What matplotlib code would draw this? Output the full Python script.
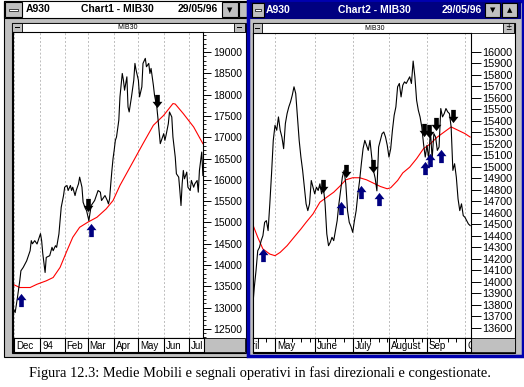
import numpy as np
import matplotlib
matplotlib.use("Agg")
import matplotlib.pyplot as plt
from matplotlib.patches import Rectangle
from matplotlib.path import Path
from matplotlib.ticker import MultipleLocator, FixedLocator

# ---- Chart1: MIB30 dic 93 - lug 94 (sedute dal 1 dic) ----
left_days = [-1, 1, 3, 5, 6, 8, 11, 14, 15, 16, 18, 20, 23, 24, 25, 27, 28, 31, 33, 34,
             36, 37, 39, 40, 41, 43, 44, 46, 47, 49, 50, 51, 53, 54, 56, 57, 59, 60, 62, 63,
             64, 65, 67, 70, 73, 75, 76, 79, 81, 82, 83, 84, 85, 86, 87, 88, 89, 90, 91, 92,
             94, 95, 96, 98, 99, 100, 102, 104, 105, 106, 108, 109, 111, 112, 114, 115, 117, 118, 119, 121,
             122, 124, 125, 127, 128, 130, 131, 132, 134, 135, 137, 138, 140, 141, 143, 144, 145, 146, 147, 148,
             150, 151, 153, 154, 156, 157, 159, 160, 161, 163, 164]
left_close = [13000, 12885, 13240, 13630, 13866, 13945, 14100, 14337, 14573, 14500, 14573, 14495, 14738, 14573, 14266, 13826, 14180, 14220, 14416, 14337,
              14455, 14416, 14730, 15044, 15357, 15632, 15828, 15868, 15750, 15868, 15750, 15828, 15632, 15750, 15907, 16064, 15828, 15475, 15326, 15280,
              15161, 15044, 15397, 15515, 15750, 15711, 15515, 15632, 15515, 15436, 15555, 15900, 16221, 16500, 16700, 16928, 17006, 17200, 17400, 17948,
              18498, 18341, 18105, 18419, 17712, 17594, 17948, 18341, 18734, 18576, 18341, 17948, 18183, 18734, 18852, 18655, 18734, 18498, 18616, 18223,
              17987, 17712, 17437, 16850, 16928, 17085, 16928, 17045, 17320, 17594, 17477, 17006, 16535, 16143, 16064, 15750, 15397, 15907, 16221, 16025,
              16182, 15828, 15750, 15986, 15828, 15907, 15986, 15711, 16221, 16653, 16103]
left_ma_days = [-1, 5, 14, 20, 28, 34, 40, 46, 51, 57, 64, 72, 80, 86, 92, 104, 112, 121, 130, 138, 140, 147, 156, 164]
left_ma = [13550, 13473, 13473, 13550, 13630, 13708, 13945, 14337, 14651, 14887, 15005, 15122, 15318, 15515, 15870,
           16457, 16850, 17281, 17516, 17791, 17780, 17555, 17241, 16850]
left_buy_days, left_buy = [6, 67], [13183, 14832]
left_sell_days, left_sell = [64, 124], [15420, 17846]
left_months = ["Dec", "94", "Feb", "Mar", "Apr", "May", "Jun", "Jul"]
left_month_days = [0, 23, 44, 64, 87, 108, 130, 152]

# ---- Chart2: MIB30 apr - ott 95 (sedute dal 1 maggio) ----
right_first_day = -13
right_close = [13761, 13949, 14095, 14269, 14298, 14357, 14400, 14516, 14531, 14444, 14677, 14940, 15229,
               15360, 15317, 15433, 15317, 15258, 15157, 15375, 15462, 15520, 15564, 15622, 15695, 15637, 15433,
               15229, 15084, 14968, 14822, 14677, 14618, 14677, 14880, 14822, 14764, 14822, 14793, 14851, 14764,
               14822, 14677, 14415, 14313, 14342, 14386, 14357, 14444, 14531, 14677, 14793, 14909, 14968, 14850,
               14618, 14516, 14480, 14429, 14531, 14618, 14764, 14880, 15026, 15157, 15229, 15186, 15142, 15229,
               15084, 14968, 14900, 14790, 15171, 15229, 15287, 15302, 15258, 15186, 15084, 15157, 15317, 15447,
               15520, 15695, 15724, 15607, 15709, 15738, 15724, 15753, 15782, 15724, 15919, 15782, 15578, 15491,
               15433, 15346, 15200, 15084, 15186, 15070, 15317, 15070, 15288, 15258, 15142, 15171, 15506, 15433,
               15462, 15506, 15477, 15462, 15346, 14968, 15026, 14909, 14720, 14618, 14677, 14575, 14560, 14531,
               14502, 14488]
right_ma_days = [-13, -10, -7, -3, 0, 3, 7, 11, 15, 18, 22, 26, 30, 34, 38, 41, 45, 49, 53, 57, 61, 65, 67,
                 71, 74, 78, 82, 86, 90, 94, 98, 102, 106, 110, 113]
right_ma = [14502, 14386, 14284, 14240, 14226, 14255, 14313, 14386, 14458, 14516, 14589, 14691, 14735, 14778,
            14837, 14886, 14904, 14904, 14886, 14857, 14828, 14808, 14817, 14880, 14946, 14996, 15070, 15157,
            15200, 15258, 15302, 15346, 15317, 15288, 15258]
right_buy_days = [-7, 38, 50, 60, 87, 90, 96]
right_buy = [14235, 14645, 14776, 14715, 14985, 15055, 15090]
right_sell_days = [28, 41, 57, 86, 89, 93, 103]
right_sell = [14828, 14959, 15003, 15317, 15308, 15369, 15439]
right_months = ["April", "May", "June", "July", "August", "Sep", "Oct"]
right_month_days = [-21, 0, 23, 45, 66, 88, 110]

caption = "Figura 12.3: Medie Mobili e segnali operativi in fasi direzionali e congestionate."

W, H = 524, 387
fig = plt.figure(figsize=(W / 100, H / 100), dpi=100)
bg = fig.add_axes([0, 0, 1, 1])
bg.set_xlim(0, W)
bg.set_ylim(H, 0)
bg.axis("off")

GRAY = "#c0c0c0"
NAVY = "#000080"
SANS = "Liberation Sans"


def box(x0, y0, x1, y1, fc, ec="black", lw=0.8):
    bg.add_patch(Rectangle((x0, y0), x1 - x0, y1 - y0, facecolor=fc, edgecolor=ec, linewidth=lw))


def px_axes(x0, y0, x1, y1):
    return fig.add_axes([x0 / W, 1 - y1 / H, (x1 - x0) / W, (y1 - y0) / H])


up = Path([(0, 1), (0.75, 0.05), (0.35, 0.05), (0.35, -1), (-0.35, -1), (-0.35, 0.05), (-0.75, 0.05), (0, 1)],
          [Path.MOVETO] + [Path.LINETO] * 6 + [Path.CLOSEPOLY])
down = Path(up.vertices * [1, -1], up.codes)

# ---- window chrome ----
# left (inactive) window
box(3.5, 0.5, 247, 356.5, GRAY)
box(4, 1, 246, 18, "white")
box(5, 2, 22, 17, GRAY)
box(9, 9, 18, 11, "white", lw=0.5)
box(222, 2, 238, 17, GRAY)
bg.text(230, 10, "\u25bc", ha="center", va="center", fontsize=5)
box(239, 2, 247, 17, GRAY)
bg.text(26, 9.5, "A930", ha="left", va="center", fontsize=7.5, weight="bold", family=SANS)
bg.text(117, 9.5, "Chart1 - MIB30", ha="center", va="center", fontsize=7.5, weight="bold", family=SANS)
bg.text(218, 9.5, "29/05/96", ha="right", va="center", fontsize=7.5, weight="bold", family=SANS)
box(11.5, 22.5, 245.5, 353, "white")
box(12, 23, 245, 32, "white", lw=0.6)
box(12, 23, 22, 32, GRAY, lw=0.6)
box(14.5, 27, 19.5, 28, "black", lw=0)
box(234, 23, 245, 32, GRAY, lw=0.6)
box(237, 27, 242, 28, "black", lw=0)
bg.text(128, 27.8, "MIB30", ha="center", va="center", fontsize=5, family=SANS)
box(204, 338, 245, 352, GRAY, lw=0.6)

# right (active) window
box(247.5, 1, 522.5, 356, GRAY, ec="#0000b0", lw=2.5)
box(250, 2, 520, 18, NAVY, ec=NAVY)
box(252, 3, 264, 17, GRAY)
box(255, 9, 261, 11, "white", lw=0.5)
box(485, 3, 500, 17, GRAY)
bg.text(492.5, 10, "\u25bc", ha="center", va="center", fontsize=5)
box(502, 3, 517, 17, GRAY)
bg.text(509.5, 10, "\u25b2", ha="center", va="center", fontsize=5)
bg.text(266, 9.8, "A930", ha="left", va="center", fontsize=7.5, weight="bold", color="white", family=SANS)
bg.text(374, 9.8, "Chart2 - MIB30", ha="center", va="center", fontsize=7.5, weight="bold", color="white",
        family=SANS)
bg.text(482, 9.8, "29/05/96", ha="right", va="center", fontsize=7.5, weight="bold", color="white", family=SANS)
box(252.5, 22.5, 515, 353, "white")
box(253, 23, 514, 33, "white", lw=0.6)
box(253, 23, 262, 33, GRAY, lw=0.6)
box(255, 27.5, 260, 28.5, "black", lw=0)
box(503, 23, 514, 33, GRAY, lw=0.6)
bg.text(508.5, 28, "\u00b1", ha="center", va="center", fontsize=5.5)
bg.text(375, 28.3, "MIB30", ha="center", va="center", fontsize=5, family=SANS)
box(471, 338, 515, 352, GRAY, lw=0.6)

bg.text(260, 373, caption, ha="center", va="center", fontsize=10.4, family="Liberation Serif")


def draw_chart(ax, days, close, ma_days, ma, buy_d, buy_v, sell_d, sell_v, grid_days, xlim, ylim):
    for d in grid_days:
        ax.axvline(d, color="#bcbcbc", lw=0.7, ls=(0, (2, 2)))
    ax.plot(ma_days, ma, color="#ff0000", lw=0.8)
    ax.plot(days, close, color="black", lw=0.8)
    ax.plot(buy_d, buy_v, ls="none", marker=up, ms=9.5, color=NAVY, mew=0)
    ax.plot(sell_d, sell_v, ls="none", marker=down, ms=9.5, color="black", mew=0)
    ax.set_xlim(*xlim)
    ax.set_ylim(*ylim)
    ax.set_xticks([])
    ax.yaxis.tick_right()
    for s in ax.spines.values():
        s.set_linewidth(0.8)


def date_strip(ax, days, labels, xlim, off, weekly=None):
    ax.set_xlim(*xlim)
    ax.set_ylim(0, 1)
    for d, lab in zip(days, labels):
        ax.axvline(d, color="black", lw=0.8)
        ax.text(d + off, 0.42, lab, ha="left", va="center", fontsize=7, family=SANS, clip_on=True)
    ax.set_yticks([])
    if weekly is None:
        ax.set_xticks([])
    else:
        ax.xaxis.set_ticks_position("top")
        ax.set_xticks(weekly)
        ax.set_xticklabels([])
        ax.tick_params(axis="x", direction="in", length=3, width=0.7)
    for s in ax.spines.values():
        s.set_linewidth(0.8)


# ---- Chart1 ----
lx = (-0.87, 164.1)
ax1 = px_axes(13, 32, 203, 338)
draw_chart(ax1, left_days, left_close, left_ma_days, left_ma, left_buy_days, left_buy,
           left_sell_days, left_sell, left_month_days, lx, (12288, 19471))
ax1.yaxis.set_major_locator(FixedLocator(np.arange(12500, 19001, 500)))
ax1.yaxis.set_minor_locator(MultipleLocator(100))
ax1.tick_params(axis="y", which="major", length=6, width=0.7, pad=1.5, labelsize=7.5)
ax1.tick_params(axis="y", which="minor", length=2.5, width=0.6)
for t in ax1.get_yticklabels():
    t.set_family(SANS)

s1 = px_axes(13, 338, 204, 352)
date_strip(s1, left_month_days, left_months, (-0.87, 165), 1.7)

# ---- Chart2 ----
rdays = np.arange(right_first_day, right_first_day + len(right_close))
rx = (-12.74, 113.5)
ax2 = px_axes(253, 33, 471, 338)
draw_chart(ax2, rdays, right_close, right_ma_days, right_ma, right_buy_days, right_buy,
           right_sell_days, right_sell, right_month_days, rx, (13510, 16163))
ax2.yaxis.set_major_locator(FixedLocator(np.arange(13600, 16001, 100)))
ax2.tick_params(axis="y", which="major", length=7, width=0.7, pad=1, labelsize=7.8)
for t in ax2.get_yticklabels():
    t.set_family(SANS)

s2 = px_axes(253, 338, 471, 352)
weekly = [d for d in range(-10, 114, 5) if d not in right_month_days]
date_strip(s2, right_month_days, right_months, rx, 1.2, weekly)

fig.savefig("out.png", dpi=100)
